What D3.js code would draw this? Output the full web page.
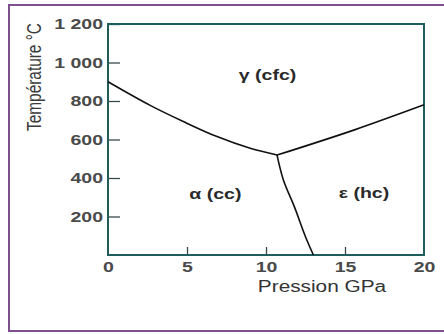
<!DOCTYPE html>
<html><head><meta charset="utf-8">
<script src="https://cdn.jsdelivr.net/npm/d3@7"></script>
<style>body{margin:0;background:#fff}svg{display:block}</style>
</head><body>
<svg id="c" width="444" height="334"></svg>
<script>
// Data
const xTicks = [0, 5, 10, 15, 20];
const yTicks = [200, 400, 600, 800, 1000, 1200];
const yTickLabels = ["200", "400", "600", "800", "1 000", "1 200"];
const gammaAlphaP = [0, 2.7, 4.8, 6.9, 9.0, 10.7];
const gammaAlphaT = [900, 776, 692, 615, 554, 519];
const gammaEpsP = [10.7, 15.6, 20];
const gammaEpsT = [519, 650, 780];
const alphaEpsP = [10.7, 11.1, 11.8, 12.5, 13.0];
const alphaEpsT = [519, 390, 250, 95, 0];
const phaseNames = ["γ (cfc)", "α (cc)", "ε (hc)"];
const phaseP = [10.1, 6.8, 16.2];
const phaseT = [910, 290, 295];
const xTitle = "Pression GPa";
const yTitle = "Température °C";

const svg = d3.select("#c");
const L = 108, R = 424, T = 24, B = 255;
const x = d3.scaleLinear().domain([0, 20]).range([L, R]);
const y = d3.scaleLinear().domain([0, 1200]).range([B, T]);
const stretch = 1.3;

// outer purple frame
svg.append("rect").attr("x", 9).attr("y", 5).attr("width", 460).attr("height", 326)
  .attr("fill", "none").attr("stroke", "#7d4f8c").attr("stroke-width", 2);

// axes
const gx = svg.append("g").attr("transform", `translate(0,${B})`)
  .call(d3.axisBottom(x).tickValues(xTicks).tickSize(-8).tickPadding(6).tickFormat(d3.format("d")));
const gy = svg.append("g").attr("transform", `translate(${L},0)`)
  .call(d3.axisLeft(y).tickValues(yTicks).tickSize(-12).tickPadding(5).tickFormat((d, i) => yTickLabels[i]));
[gx, gy].forEach(g => {
  g.select(".domain").remove();
  g.selectAll(".tick line").attr("stroke", "#3a4a4a").attr("stroke-width", 1.3);
  g.selectAll(".tick text").attr("fill", "#4a4a4a")
    .style("font-family", "Liberation Sans, Arial, sans-serif")
    .style("font-size", "15px").style("font-weight", "bold")
    .each(function () {
      const w = this.getComputedTextLength();
      d3.select(this).attr("textLength", w * stretch).attr("lengthAdjust", "spacingAndGlyphs");
    });
});
gx.selectAll(".tick").filter(d => d === 0 || d === 20).select("line").remove();

// plot frame
svg.append("rect").attr("x", L).attr("y", T).attr("width", R - L).attr("height", B - T)
  .attr("fill", "none").attr("stroke", "#1f5c5c").attr("stroke-width", 2);

// boundaries
const line = d3.line().x(d => x(d[0])).y(d => y(d[1])).curve(d3.curveCatmullRom);
const series = [
  d3.zip(gammaAlphaP, gammaAlphaT),
  d3.zip(gammaEpsP, gammaEpsT),
  d3.zip(alphaEpsP, alphaEpsT)
];
svg.selectAll("path.b").data(series).join("path").attr("class", "b")
  .attr("d", line).attr("fill", "none").attr("stroke", "#111").attr("stroke-width", 1.6);

// phase labels
svg.selectAll("text.ph").data(phaseNames).join("text").attr("class", "ph")
  .attr("x", (d, i) => x(phaseP[i])).attr("y", (d, i) => y(phaseT[i]))
  .attr("text-anchor", "middle").attr("fill", "#2a2a2a")
  .style("font-family", "Liberation Sans, Arial, sans-serif").style("font-size", "15px").style("font-weight", "600")
  .text(d => d)
  .each(function () {
    const w = this.getComputedTextLength();
    d3.select(this).attr("textLength", w * stretch).attr("lengthAdjust", "spacingAndGlyphs");
  });

// axis titles
const xt = svg.append("text").attr("x", 322).attr("y", 292).attr("text-anchor", "middle")
  .attr("fill", "#333").style("font-family", "Liberation Sans, Arial, sans-serif").style("font-size", "16px")
  .text(xTitle);
xt.attr("textLength", xt.node().getComputedTextLength() * stretch).attr("lengthAdjust", "spacingAndGlyphs");

svg.append("g").attr("transform", "translate(41,77) scale(1.3,1) rotate(-90)")
  .append("text").attr("text-anchor", "middle").attr("fill", "#3a3a3a")
  .style("font-family", "Liberation Sans, Arial, sans-serif").style("font-size", "15px")
  .attr("textLength", 108).attr("lengthAdjust", "spacingAndGlyphs")
  .text(yTitle);
</script>
</body></html>
